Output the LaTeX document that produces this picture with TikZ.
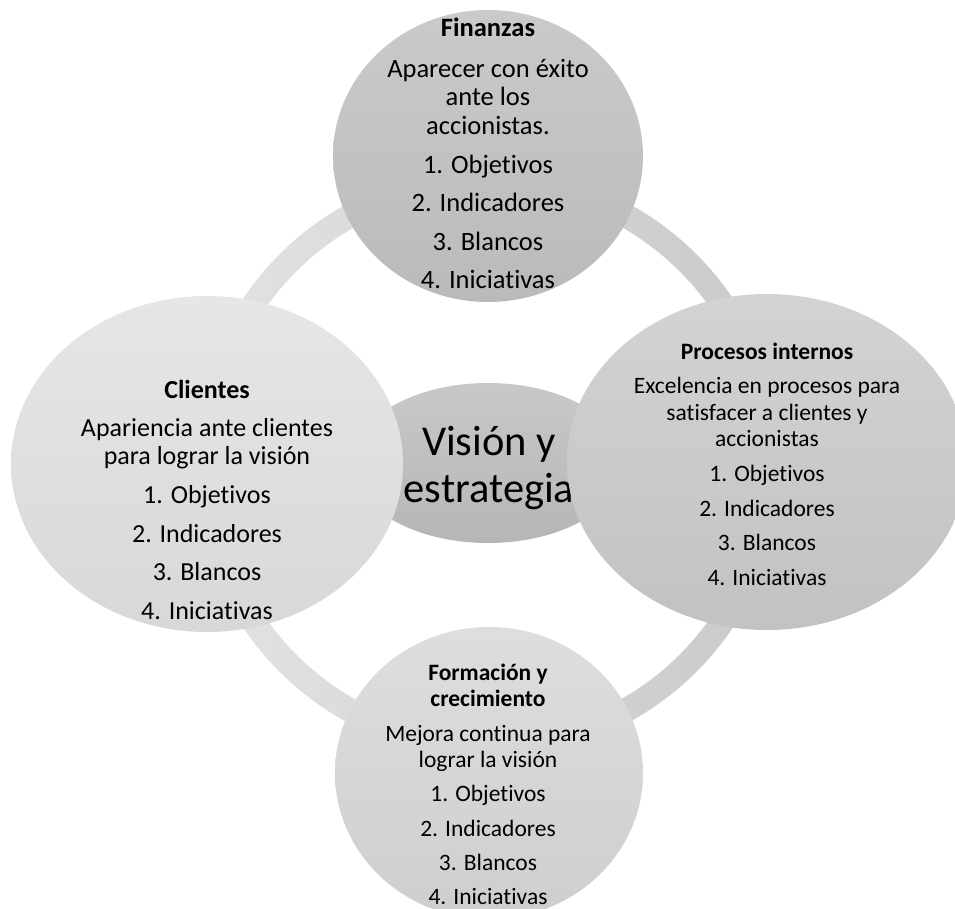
\documentclass[tikz,border=0pt]{standalone}
\usepackage{fontspec}
\setmainfont{Carlito}[Ligatures=NoCommon]
\usetikzlibrary{shapes.geometric}

\definecolor{ringLight}{HTML}{E3E3E3}
\definecolor{ringDark}{HTML}{C9C9C9}
\definecolor{visTop}{HTML}{C8C8C8}
\definecolor{visBot}{HTML}{B6B6B6}
\definecolor{finTop}{HTML}{CACACA}
\definecolor{finBot}{HTML}{BABABA}
\definecolor{cliTop}{HTML}{E6E6E6}
\definecolor{cliBot}{HTML}{D8D8D8}
\definecolor{proTop}{HTML}{D3D3D3}
\definecolor{proBot}{HTML}{C2C2C2}
\definecolor{forTop}{HTML}{DEDEDE}
\definecolor{forBot}{HTML}{CECECE}

\begin{document}
\begin{tikzpicture}[x=1pt,y=-1pt,
  disc/.style={ellipse, inner sep=0pt, draw=none},
  blocktext/.style={align=center, anchor=north, inner sep=0pt, text=black},
]
\useasboundingbox (0,0) rectangle (955,909);
\clip (0,0) rectangle (955,909);
\fill[white] (0,0) rectangle (955,909);

% ring linking the four perspectives
\coordinate (hub) at (488,463);
\path[even odd rule, left color=ringLight, right color=ringDark]
  (hub) circle[radius=295] (hub) circle[radius=271];

% centre: vision and strategy
\node[disc, minimum width=272pt, minimum height=160pt,
      top color=visTop, bottom color=visBot] (vision) at (hub) {};
\node[blocktext, font=\fontsize{42.5}{47}\selectfont] (visionT) at (489,420)
  {\rule{0pt}{35pt}Visión y\\estrategia};

% Finanzas
\node[disc, minimum width=310pt, minimum height=292pt,
      top color=finTop, bottom color=finBot] (fin) at (488,156) {};
\node[blocktext, font=\fontsize{26.5}{27}\selectfont] (finT) at (488,14)
  {\rule{0pt}{22pt}\textbf{Finanzas}\\[14pt]
   Aparecer con éxito\\[1.5pt]ante los\\[1.5pt]accionistas.\\[12pt]
   1. Objetivos\\[11.5pt]2. Indicadores\\[11.5pt]3. Blancos\\[11.5pt]4. Iniciativas};

% Clientes
\node[disc, minimum width=392pt, minimum height=336pt,
      top color=cliTop, bottom color=cliBot] (cli) at (207,464) {};
\node[blocktext, font=\fontsize{26}{28}\selectfont] (cliT) at (207,376)
  {\rule{0pt}{22pt}\textbf{Clientes}\\[10.6pt]
   Apariencia ante clientes\\para lograr la visión\\[10.6pt]
   1. Objetivos\\[10.6pt]2. Indicadores\\[10.6pt]3. Blancos\\[10.6pt]4. Iniciativas};

% Procesos internos
\node[disc, minimum width=400pt, minimum height=336pt,
      top color=proTop, bottom color=proBot] (pro) at (767,462) {};
\node[blocktext, font=\fontsize{23.5}{26.5}\selectfont] (proT) at (767,339)
  {\rule{0pt}{20pt}\textbf{Procesos internos}\\[8.1pt]
   Excelencia en procesos para\\satisfacer a clientes y\\accionistas\\[8.1pt]
   1. Objetivos\\[8.1pt]2. Indicadores\\[8.1pt]3. Blancos\\[8.1pt]4. Iniciativas};

% Formación y crecimiento
\node[disc, minimum width=308pt, minimum height=292pt,
      top color=forTop, bottom color=forBot] (form) at (489,773) {};
\node[blocktext, font=\fontsize{23.5}{25.5}\selectfont] (formT) at (488,660)
  {\rule{0pt}{20pt}\textbf{Formación y}\\[1pt]\textbf{crecimiento}\\[9pt]
   Mejora continua para\\[1pt]lograr la visión\\[8.5pt]
   1. Objetivos\\[9pt]2. Indicadores\\[9pt]3. Blancos\\[8.5pt]4. Iniciativas};
\end{tikzpicture}
\end{document}
